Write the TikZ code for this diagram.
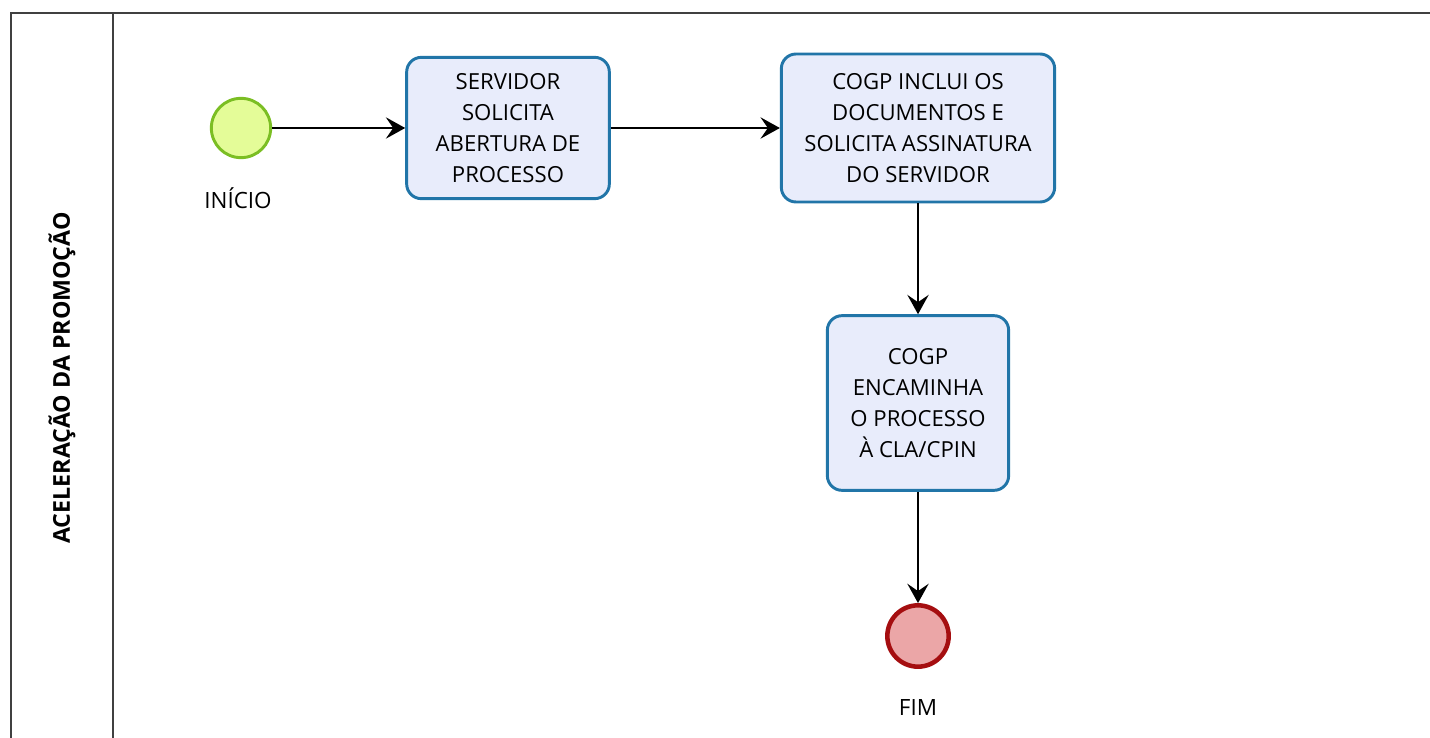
\documentclass[tikz,border=0pt]{standalone}
\usepackage{fontspec}
\setmainfont{Open Sans}
\usetikzlibrary{arrows.meta}
\usetikzlibrary{positioning}

\definecolor{lanecol}{HTML}{404040}
\definecolor{taskfill}{HTML}{E8ECFB}
\definecolor{taskline}{HTML}{2175A8}
\definecolor{startfill}{HTML}{E4FC98}
\definecolor{startline}{HTML}{7BBE23}
\definecolor{endfill}{HTML}{EBA6A7}
\definecolor{endline}{HTML}{A50E10}

\tikzset{
  lane/.style={draw=lanecol,line width=1.5pt},
  task/.style={draw=taskline,fill=taskfill,line width=2.2pt,rounded corners=11pt,
    align=center,inner sep=0pt,font=\fontsize{16.6}{23.2}\selectfont},
  startev/.style={circle,draw=startline,fill=startfill,line width=2.2pt,minimum size=44.5pt,inner sep=0pt},
  endev/.style={circle,draw=endline,fill=endfill,line width=3.4pt,minimum size=46pt,inner sep=0pt},
  evlabel/.style={font=\fontsize{16.8}{20}\selectfont},
}

\begin{document}
\begin{tikzpicture}[x=0.75pt,y=-0.75pt]

  \clip (0,0) rectangle (1430,738);

  % pool and lane
  \draw [lane] (11,13) rectangle (1460,770);
  \draw [lane] (113,13) -- (113,770);
  \node [rotate=90,font=\bfseries\fontsize{17.4}{20}\selectfont] (lanelab) at (62,378) {ACELERAÇÃO DA PROMOÇÃO};

  \node [startev] (start) at (241,128) {};
  \node [evlabel] (startlab) at (238,198) {INÍCIO};

  \node [task,minimum width=152pt,minimum height=106pt] (servidor) at (508,128)
    {SERVIDOR\\SOLICITA\\ABERTURA DE\\PROCESSO};
  \node [task,minimum width=205pt,minimum height=111pt] (inclui) at (918,128)
    {COGP INCLUI OS\\DOCUMENTOS E\\SOLICITA ASSINATURA\\DO SERVIDOR};
  \node [task,minimum width=136pt,minimum height=131pt] (encaminha) at (918,403)
    {COGP\\ENCAMINHA\\O PROCESSO\\À CLA/CPIN};

  \node [endev] (fim) at (918,636) {};
  \node [evlabel] (fimlab) at (918,707) {FIM};

  \path [draw,line width=1.5pt,-{Stealth[length=14.5pt,width=16pt,inset=5.5pt]}]
    (start)     edge (servidor)
    (servidor)  edge (inclui)
    (inclui)    edge (encaminha)
    (encaminha) edge (fim);

\end{tikzpicture}
\end{document}
